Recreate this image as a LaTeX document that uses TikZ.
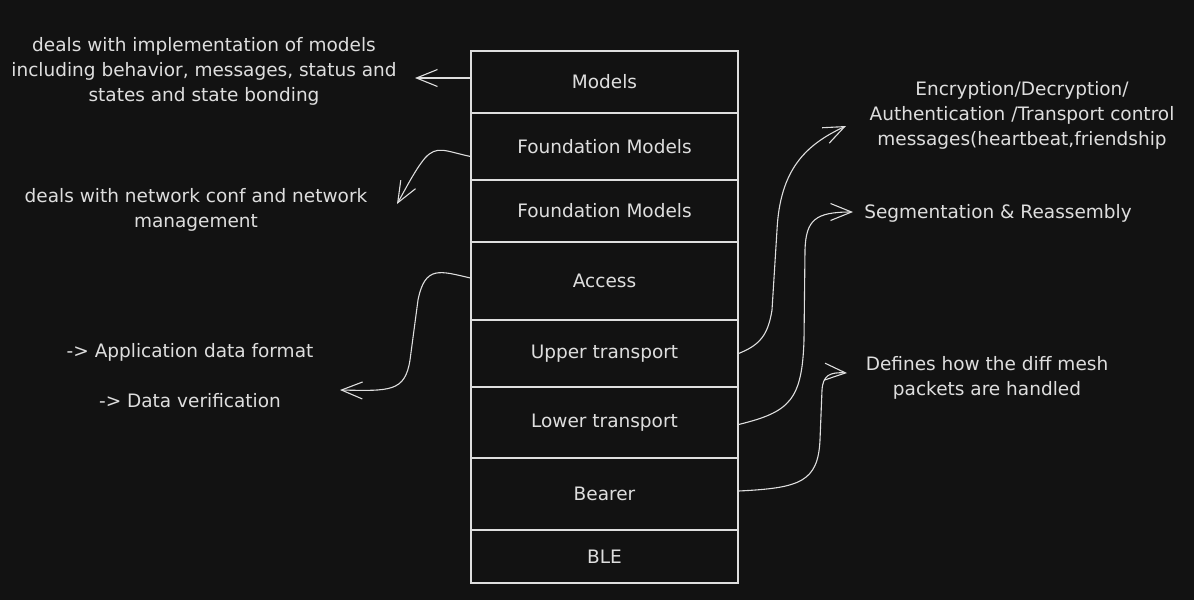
\documentclass[tikz,border=0pt]{standalone}
\usepackage{fontspec}
\setmainfont{DejaVu Sans}
\usetikzlibrary{arrows.meta}

\begin{document}
\begin{tikzpicture}[
  x=1pt, y=-1pt,
  layer/.style={draw=ink, line width=1.1pt, minimum width=267pt, inner sep=0pt,
    text=ink, font=\fontsize{18.5}{25}\selectfont},
  note/.style={text=ink, align=center, inner sep=0pt, font=\fontsize{18.5}{25}\selectfont},
  link/.style={draw=ink, line width=1.1pt,
    -{Straight Barb[length=21pt,width=17pt,line width=1.1pt]}},
]
\definecolor{bg}{RGB}{18,18,18}
\definecolor{ink}{RGB}{222,222,222}

\fill [bg] (0,0) rectangle (1194,600);

% protocol stack
\node [layer, minimum height=62pt] (models) at (604.5,82) {Models};
\node [layer, minimum height=67pt] (found1) at (604.5,146.5) {Foundation Models};
\node [layer, minimum height=62pt] (found2) at (604.5,211) {Foundation Models};
\node [layer, minimum height=78pt] (access) at (604.5,281) {Access};
\node [layer, minimum height=67pt] (upper) at (604.5,353.5) {Upper transport};
\node [layer, minimum height=71pt] (lower) at (604.5,422.5) {Lower transport};
\node [layer, minimum height=72pt] (bearer) at (604.5,494) {Bearer};
\node [layer, minimum height=53pt] (ble) at (604.5,556.5) {BLE};

% notes
\node [note] (implnote) at (204,71) {deals with implementation of models\\including behavior, messages, status and\\states and state bonding};
\node [note] (netnote) at (196,210) {deals with network conf and network\\management};
\node [note] (appnote) at (190,376) {-> Application data format\\[25pt]-> Data verification};
\node [note] (cryptnote) at (1022,115) {Encryption/Decryption/\\Authentication /Transport control\\messages(heartbeat,friendship};
\node [note] (segnote) at (998,213) {Segmentation \& Reassembly};
\node [note] (meshnote) at (987,378) {Defines how the diff mesh\\packets are handled};

\coordinate (tipA) at (415,78);
\coordinate (tipB) at (397,204);
\coordinate (tipC) at (340,390);
\coordinate (tipD) at (846,126);
\coordinate (tipE) at (853,212);
\coordinate (tipF) at (847,373);

\draw [link] (models.west |- tipA) -- (tipA);
\draw [link] ([yshift=-10pt]found1.west) .. controls (445,151) and (437,145) .. (425,158)
  .. controls (415,170) and (405,190) .. (tipB);
\draw [link] ([yshift=3pt]access.west) .. controls (440,271) and (425,265) .. (418,300)
  -- (410,360) .. controls (405,392) and (390,391) .. (tipC);
\draw [link] (upper.east) .. controls (760,345) and (768,335) .. (772,310)
  -- (777,230) .. controls (780,170) and (805,145) .. (tipD);
\draw [link] ([yshift=-2pt]lower.east) .. controls (790,412) and (802,400) .. (804,340)
  -- (805,250) .. controls (806,220) and (815,212) .. (tipE);
\draw [link] ([yshift=3pt]bearer.east) .. controls (800,488) and (818,482) .. (820,440)
  -- (822,390) .. controls (823,375) and (830,372) .. (tipF);

\end{tikzpicture}
\end{document}
